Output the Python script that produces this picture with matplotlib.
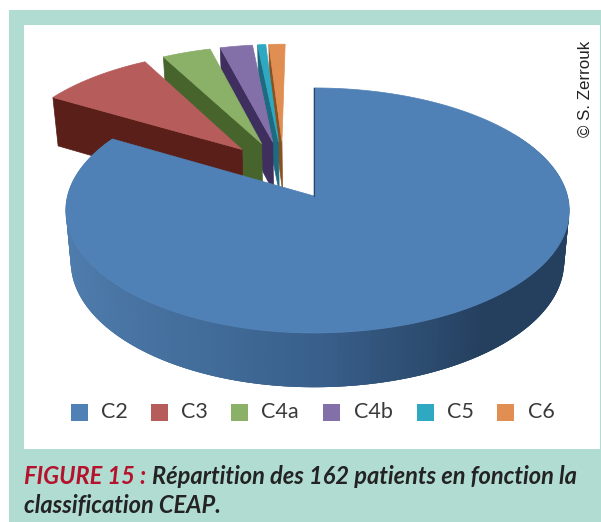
import numpy as np
import matplotlib
matplotlib.use("Agg")
import matplotlib.pyplot as plt
from matplotlib.patches import Polygon, Rectangle
from matplotlib.colors import to_rgb

# Data (patient counts; 162 in total)
categories = ["C2", "C3", "C4a", "C4b", "C5", "C6"]
patients = [135, 14, 6, 4, 1, 2]
face_colors = ["#5081b6", "#b65c5b", "#8bb068", "#8470a8", "#2fa9c2", "#e08e52"]
wall_colors = ["#2a4667", "#5a1f18", "#47642d", "#3e2f5e", "#1e6a80", "#8a5120"]
caption_head = "FIGURE 15 :"
caption_line1 = "Répartition des 162 patients en fonction la"
caption_line2 = "classification CEAP."
credit = "© S. Zerrouk"

# Projection of the tilted pie onto the page
CX, CY, A, B, K = 314.0, 196.0, 250.0, 120.8, 0.118
EXPLODE = 0.255
DEPTH = 51.0


def project(u, v):
    w = 1 + K * v
    x = CX + A * (1 + 0.014 * np.sign(u)) * u / w
    y = CY - B * v / w
    return x, y


def drop(u, v):
    x, y = project(u, v)
    w = 1 + K * v
    return CX + (x - CX) * 0.98, y + DEPTH / np.sqrt(w)


fig = plt.figure(figsize=(6.01, 5.22), dpi=100, facecolor="white")
ax = fig.add_axes([0, 0, 1, 1])
ax.set_xlim(0, 601)
ax.set_ylim(522, 0)
ax.axis("off")

ax.add_patch(Rectangle((9, 10), 592, 512, fc="#b1dcd1", ec="none", zorder=0))
ax.add_patch(Rectangle((24, 25), 576, 424, fc="white", ec="none", zorder=0.5))

vals = np.array(patients, dtype=float)
edges = np.concatenate([[0], np.cumsum(vals)]) / vals.sum() * 2 * np.pi
mids = (edges[:-1] + edges[1:]) / 2
ref = np.array([np.sin(mids[0]), np.cos(mids[0])])
offsets = [EXPLODE * (np.array([np.sin(m), np.cos(m)]) - ref) for m in mids]


def arc(i, t0=None, t1=None):
    t0 = edges[i] if t0 is None else t0
    t1 = edges[i + 1] if t1 is None else t1
    t = np.linspace(t0, t1, max(4, int((t1 - t0) * 60)))
    return offsets[i][0] + np.sin(t), offsets[i][1] + np.cos(t)


# Small exploded slices, back to front
for i in range(len(vals) - 1, 0, -1):
    ou, ov = offsets[i]
    eu, ev = ou + np.sin(edges[i]), ov + np.cos(edges[i])
    top = [project(ou, ov), project(eu, ev)]
    low = [drop(eu, ev), drop(ou, ov)]
    z = 2 + (len(vals) - i) * 0.1
    ax.add_patch(Polygon(top + low, fc=wall_colors[i], ec=wall_colors[i], lw=0.5, zorder=z))
    au, av = arc(i)
    px, py = project(au, av)
    pts = np.vstack([[project(ou, ov)], np.column_stack([px, py])])
    ax.add_patch(Polygon(pts, fc=face_colors[i], ec=face_colors[i], lw=0.5, zorder=z + 0.05))

# Large slice: shaded outer wall (overlapping strips, drawn so no seams show)
ou, ov = offsets[0]
shade_left = np.array(to_rgb("#4f7dad"))
shade_mid = np.array(to_rgb("#39608c"))
shade_right = np.array(to_rgb("#25405f"))
ts = np.linspace(edges[1], np.radians(60), 180)
step = abs(ts[1] - ts[0])
for t0 in ts[:-1]:
    t1 = t0 - step * 3
    q = []
    for t in (t0, t1):
        q.append(project(ou + np.sin(t), ov + np.cos(t)))
    for t in (t1, t0):
        q.append(drop(ou + np.sin(t), ov + np.cos(t)))
    f = (np.sin(t0) + 1) / 2
    f = float(np.clip(f, 0, 1))
    if f < 0.5:
        c = shade_left + (shade_mid - shade_left) * (f / 0.5)
    else:
        c = shade_mid + (shade_right - shade_mid) * min(1, (f - 0.5) / 0.3)
    ax.add_patch(Polygon(q, fc=c, ec="none", zorder=3))

# Large slice: top face
au, av = arc(0)
px, py = project(au, av)
pts = np.vstack([[project(ou, ov)], np.column_stack([px, py])])
ax.add_patch(Polygon(pts, fc=face_colors[0], ec=face_colors[0], lw=0.5, zorder=4))
sx, sy = project(ou + np.sin(edges[0]), ov + np.cos(edges[0]))
tx, ty = project(ou, ov)
ax.plot([sx, tx], [sy, ty], color="#2a4667", lw=0.8, zorder=4.1)

# Legend
legend_box_x = [71, 151, 231, 323, 417, 497]
legend_text_x = [101, 181, 261, 354, 447, 528]
for name, col, bx, tx_ in zip(categories, face_colors, legend_box_x, legend_text_x):
    ax.add_patch(Rectangle((bx, 404), 17, 17, fc=col, ec="none", zorder=5))
    ax.text(tx_, 412.5, name, fontsize=15.5, color="#3a3a3a", family="Lato",
            va="center", ha="left", zorder=5)

# Credit
ax.text(585, 89, credit, rotation=90, fontsize=12.2, family="Liberation Sans",
        color="#222222", ha="center", va="center", zorder=5)

# Caption
cap = dict(fontsize=17, family="Lato", style="italic", weight="bold", va="center", ha="left")
ax.text(24, 476, caption_head, color="#b5122d", **cap)
ax.text(152, 476, caption_line1, color="#232323", **cap)
ax.text(24, 505, caption_line2, color="#232323", **cap)

fig.savefig("out.png", dpi=100)
